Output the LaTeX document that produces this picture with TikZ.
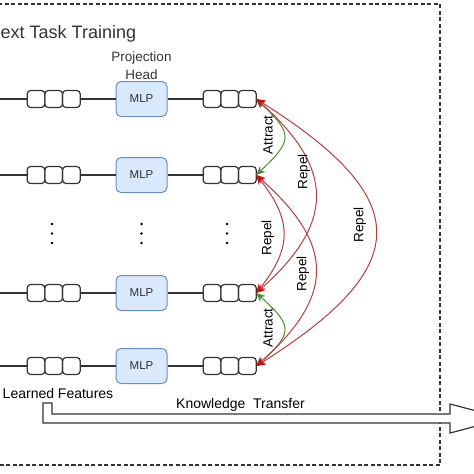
\documentclass[tikz,border=0pt]{standalone}
\usepackage{fontspec}
\setmainfont{Liberation Sans}
\usepackage{tikz}
\usetikzlibrary{arrows.meta,positioning,calc}
\definecolor{linegray}{HTML}{333333}
\definecolor{mlpfill}{HTML}{DAE8FC}
\definecolor{mlpdraw}{HTML}{6C8EBF}
\definecolor{attractgreen}{HTML}{4E8C38}
\definecolor{repelred}{HTML}{B04040}
\definecolor{tipred}{HTML}{CC1010}

\begin{document}
\begin{tikzpicture}[x=1pt, y=-1pt]
    % Styles
    \tikzset{
        cell/.style={rectangle, draw=linegray, line width=1.2pt, rounded corners=3.5pt, minimum width=17.7pt, minimum height=17pt, inner sep=0pt, outer sep=0pt},
        mlpbox/.style={rectangle, draw=mlpdraw, fill=mlpfill, line width=1pt, rounded corners=5pt, minimum width=51pt, minimum height=35pt, font=\fontsize{11.5}{13}\selectfont, text=linegray},
        link/.style={draw=linegray, line width=1.2pt},
        attract/.style={<->, >={Stealth[length=9pt, width=8pt]}, draw=attractgreen, line width=1pt},
        repel/.style={<->, >={Stealth[length=9pt, width=8pt, color=tipred]}, draw=repelred, line width=1pt},
        lbl/.style={font=\fontsize{13.5}{16}\selectfont, rotate=90, inner sep=0pt},
        txt/.style={font=\fontsize{14}{16}\selectfont, align=center, inner sep=0pt}
    }
    \useasboundingbox (0,0) rectangle (474,474);
    \clip (0,0) rectangle (474,474);

    % Frame and title
    \draw[linegray, line width=1.3pt, dash pattern=on 4pt off 2.5pt] (-20,4) rectangle (440,465);
    \node[anchor=base west, inner sep=0pt, font=\fontsize{18}{21}\selectfont, text=linegray] (title) at (0.5,38) {ext Task Training};

    % Rows: features -> MLP -> projections
    \foreach \r/\y in {1/99, 2/175, 3/293, 4/366} {
        \coordinate (in\r) at (0,\y);
        \node[cell] (fa\r) at (36,\y) {};
        \node[cell, right=0pt of fa\r] (fb\r) {};
        \node[cell, right=0pt of fb\r] (fc\r) {};
        \node[mlpbox] (mlp\r) at (141.5,\y) {MLP};
        \node[cell] (ga\r) at (212,\y) {};
        \node[cell, right=0pt of ga\r] (gb\r) {};
        \node[cell, right=0pt of gb\r] (gc\r) {};
        \draw[link] (in\r) -- (fa\r);
        \draw[link] (fc\r) -- (mlp\r);
        \draw[link] (mlp\r) -- (ga\r);
    }
    \node[txt, above=1.5pt of mlp1, font=\fontsize{13.5}{18}\selectfont, text=linegray] (phead) {Projection\\Head};

    % Vertical dots
    \foreach \x in {52, 141.5, 227}
        \foreach \y in {224, 233.5, 243}
            \fill[black] (\x,\y) circle (1.4pt);

    % Attract / repel arcs
    \draw[attract] (gc1.east) .. controls +(37,35) and +(37,-35) .. (gc2.east);
    \draw[attract] (gc3.east) .. controls +(37,33) and +(37,-33) .. (gc4.east);
    \draw[repel] (gc2.east) .. controls +(36,45) and +(36,-45) .. (gc3.east);
    \draw[repel] (gc1.east) .. controls +(79,70) and +(79,-70) .. (gc3.east);
    \draw[repel] (gc2.east) .. controls +(79,70) and +(79,-70) .. (gc4.east);
    \draw[repel] (gc1.east) .. controls +(159,100) and +(159,-100) .. (gc4.east);
    \node[lbl] (att12) at (268,135) {Attract};
    \node[lbl] (rep13) at (304,172) {Repel};
    \node[lbl] (rep23) at (268,238) {Repel};
    \node[lbl] (rep24) at (303,274) {Repel};
    \node[lbl] (rep14) at (360,225) {Repel};
    \node[lbl] (att34) at (268,328) {Attract};

    % Knowledge transfer
    \node[txt, anchor=base] (learned) at (58,398.5) {Learned Features};
    \node[txt, anchor=base] (ktext) at (240.5,408.5) {Knowledge\ \ Transfer};
    \coordinate (ktail) at (47.5,403);
    \coordinate (ktip) at (505,418.5);
    \draw[link, fill=white] ($(ktail)+(-4.5,0)$) -- ($(ktail)+(4.5,0)$) |- ($(ktip)+(-55,-4.5)$)
        -- ++(0,-10) -- (ktip) -- ($(ktip)+(-55,14.5)$) -- ++(0,-10) -- ($(ktail)+(-4.5,20)$) -- cycle;
\end{tikzpicture}
\end{document}
